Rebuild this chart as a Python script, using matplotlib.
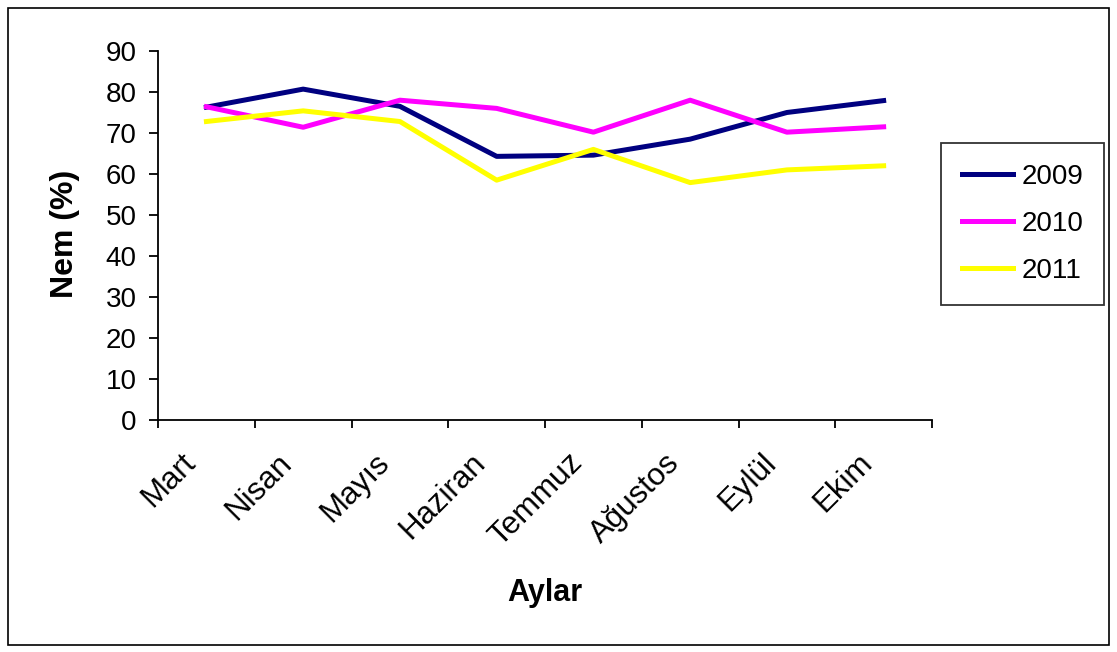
import matplotlib.pyplot as plt
import matplotlib.patches as patches
import matplotlib.transforms as mtransforms
import numpy as np

plt.rcParams['font.family'] = ['Liberation Sans', 'DejaVu Sans']

months = ['Mart', 'Nisan', 'Mayıs', 'Haziran', 'Temmuz', 'Ağustos', 'Eylül', 'Ekim']
nem_2009 = [76.3, 80.7, 76.5, 64.3, 64.6, 68.5, 75.0, 77.9]
nem_2010 = [76.4, 71.4, 78.0, 76.0, 70.2, 78.0, 70.2, 71.5]
nem_2011 = [72.8, 75.4, 72.8, 58.5, 66.0, 57.9, 61.0, 62.0]

fig = plt.figure(figsize=(11.17, 6.52), dpi=100)
ax = fig.add_axes([0.1415, 0.3558, 0.6929, 0.566])

x = np.arange(len(months)) + 0.5
ax.plot(x, nem_2009, color='#000080', lw=3.6, label='2009')
ax.plot(x, nem_2010, color='#FF00FF', lw=3.6, label='2010')
ax.plot(x, nem_2011, color='#FFFF00', lw=3.6, label='2011')

ax.set_xlim(0, len(months))
ax.set_ylim(0, 90)
ax.set_yticks(range(0, 91, 10))
ax.tick_params(axis='y', labelsize=20, length=6.5, width=1.3, direction='out', pad=9)

# category boundaries as ticks, labels at centers
ax.set_xticks(np.arange(len(months) + 1))
ax.set_xticklabels([])
ax.tick_params(axis='x', which='major', length=6, width=1.3, direction='out')
ax.set_xticks(x, minor=True)
ax.set_xticklabels(months, minor=True, rotation=45, ha='right', va='top',
                   rotation_mode='anchor', fontsize=22.5)
ax.tick_params(axis='x', which='minor', length=0, pad=20)
shift = mtransforms.ScaledTranslation(-0.26, 0, fig.dpi_scale_trans)
for lbl in ax.get_xticklabels(minor=True):
    lbl.set_transform(lbl.get_transform() + shift)

for s in ['top', 'right']:
    ax.spines[s].set_visible(False)
for s in ['left', 'bottom']:
    ax.spines[s].set_linewidth(1.3)

fig.text(0.058, 0.641, 'Nem (%)', fontsize=23, fontweight='bold', rotation=90,
         ha='center', va='center')
fig.text(0.488, 0.09, 'Aylar', fontsize=22, fontweight='bold', ha='center', va='center')

leg = fig.legend(loc='center', bbox_to_anchor=(0.9155, 0.6565), fontsize=20,
                 frameon=True, fancybox=False, edgecolor='black', handlelength=1.85,
                 labelspacing=0.75, borderpad=0.75, handletextpad=0.3)
leg.get_frame().set_linewidth(1.3)

fig.patches.append(patches.Rectangle((0.0072, 0.0107), 0.9857, 0.977,
                                     transform=fig.transFigure, fill=False,
                                     edgecolor='black', lw=1.2))

fig.savefig('out.png', dpi=100)
